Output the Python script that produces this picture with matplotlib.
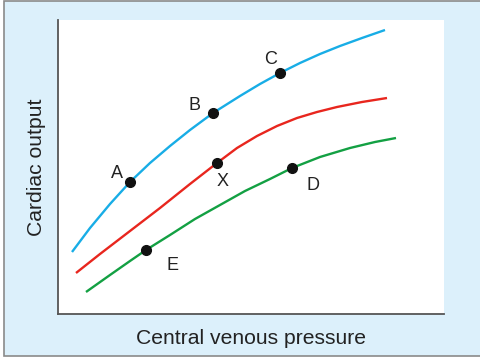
import matplotlib
matplotlib.use("Agg")
import matplotlib.pyplot as plt
from matplotlib.patches import Rectangle

plt.rcParams['font.family'] = ['Liberation Sans', 'DejaVu Sans']

# Curve data (arbitrary units: pressure vs output)
blue_x = [14, 32, 52, 72, 92, 112, 132, 155, 182, 202, 222, 242, 262, 282, 304, 327]
blue_y = [62, 86, 110, 132, 151, 168, 184, 201, 218, 230, 241, 251, 260, 268, 276, 284]
red_x = [18, 42, 72, 102, 132, 159, 179, 199, 219, 239, 259, 279, 304, 329]
red_y = [41, 60, 83, 106, 130, 151, 166, 178, 188, 196, 202, 207, 212, 216]
green_x = [28, 52, 72, 88, 112, 137, 162, 187, 212, 234, 262, 292, 317, 338]
green_y = [22, 39, 53, 64, 79, 95, 109, 123, 135, 146, 157, 166, 172, 176]

# Labelled points
pt_names = ["A", "B", "C", "X", "D", "E"]
pt_x = [72, 155, 222, 159, 234, 88]
pt_y = [132, 201, 241, 151, 146, 64]
lab_dx = [-13, -18, -9, 6, 21, 27]
lab_dy = [9, 8, 14, -18, -17, -16]

fig = plt.figure(figsize=(4.81, 3.57), dpi=100, facecolor="white")
bg = Rectangle((4/481, 1/357), 1.0, 355/357, transform=fig.transFigure,
               facecolor="#dcf0fb", edgecolor="#8a8a8a", linewidth=1.2, zorder=-10)
fig.add_artist(bg)
ax = fig.add_axes([58/481, 43/357, 386/481, 294/357])
ax.set_zorder(5)
ax.set_facecolor("white")
ax.set_xlim(0, 386)
ax.set_ylim(0, 294)

ax.plot(blue_x, blue_y, color="#18ade6", lw=1.7, solid_capstyle="butt")
ax.plot(red_x, red_y, color="#e8261e", lw=1.7, solid_capstyle="butt")
ax.plot(green_x, green_y, color="#13a043", lw=1.7, solid_capstyle="butt")
ax.plot(pt_x, pt_y, "o", color="#111111", ms=7, zorder=5)

for n, x, y, dx, dy in zip(pt_names, pt_x, pt_y, lab_dx, lab_dy):
    ax.text(x + dx, y + dy, n, ha="center", va="center", fontsize=13, color="#222222")

for s in ["top", "right"]:
    ax.spines[s].set_visible(False)
for s in ["left", "bottom"]:
    ax.spines[s].set_color("#555555")
    ax.spines[s].set_linewidth(1.3)
ax.set_xticks([])
ax.set_yticks([])

ax.set_xlabel("Central venous pressure", fontsize=15.2, color="#222222", va="center")
ax.set_ylabel("Cardiac output", fontsize=15.2, color="#222222", va="center")
ax.xaxis.set_label_coords(0.5, -25 / 294)
ax.yaxis.set_label_coords(-21 / 386, 0.5)

fig.savefig("out.png", dpi=100, facecolor="white")
